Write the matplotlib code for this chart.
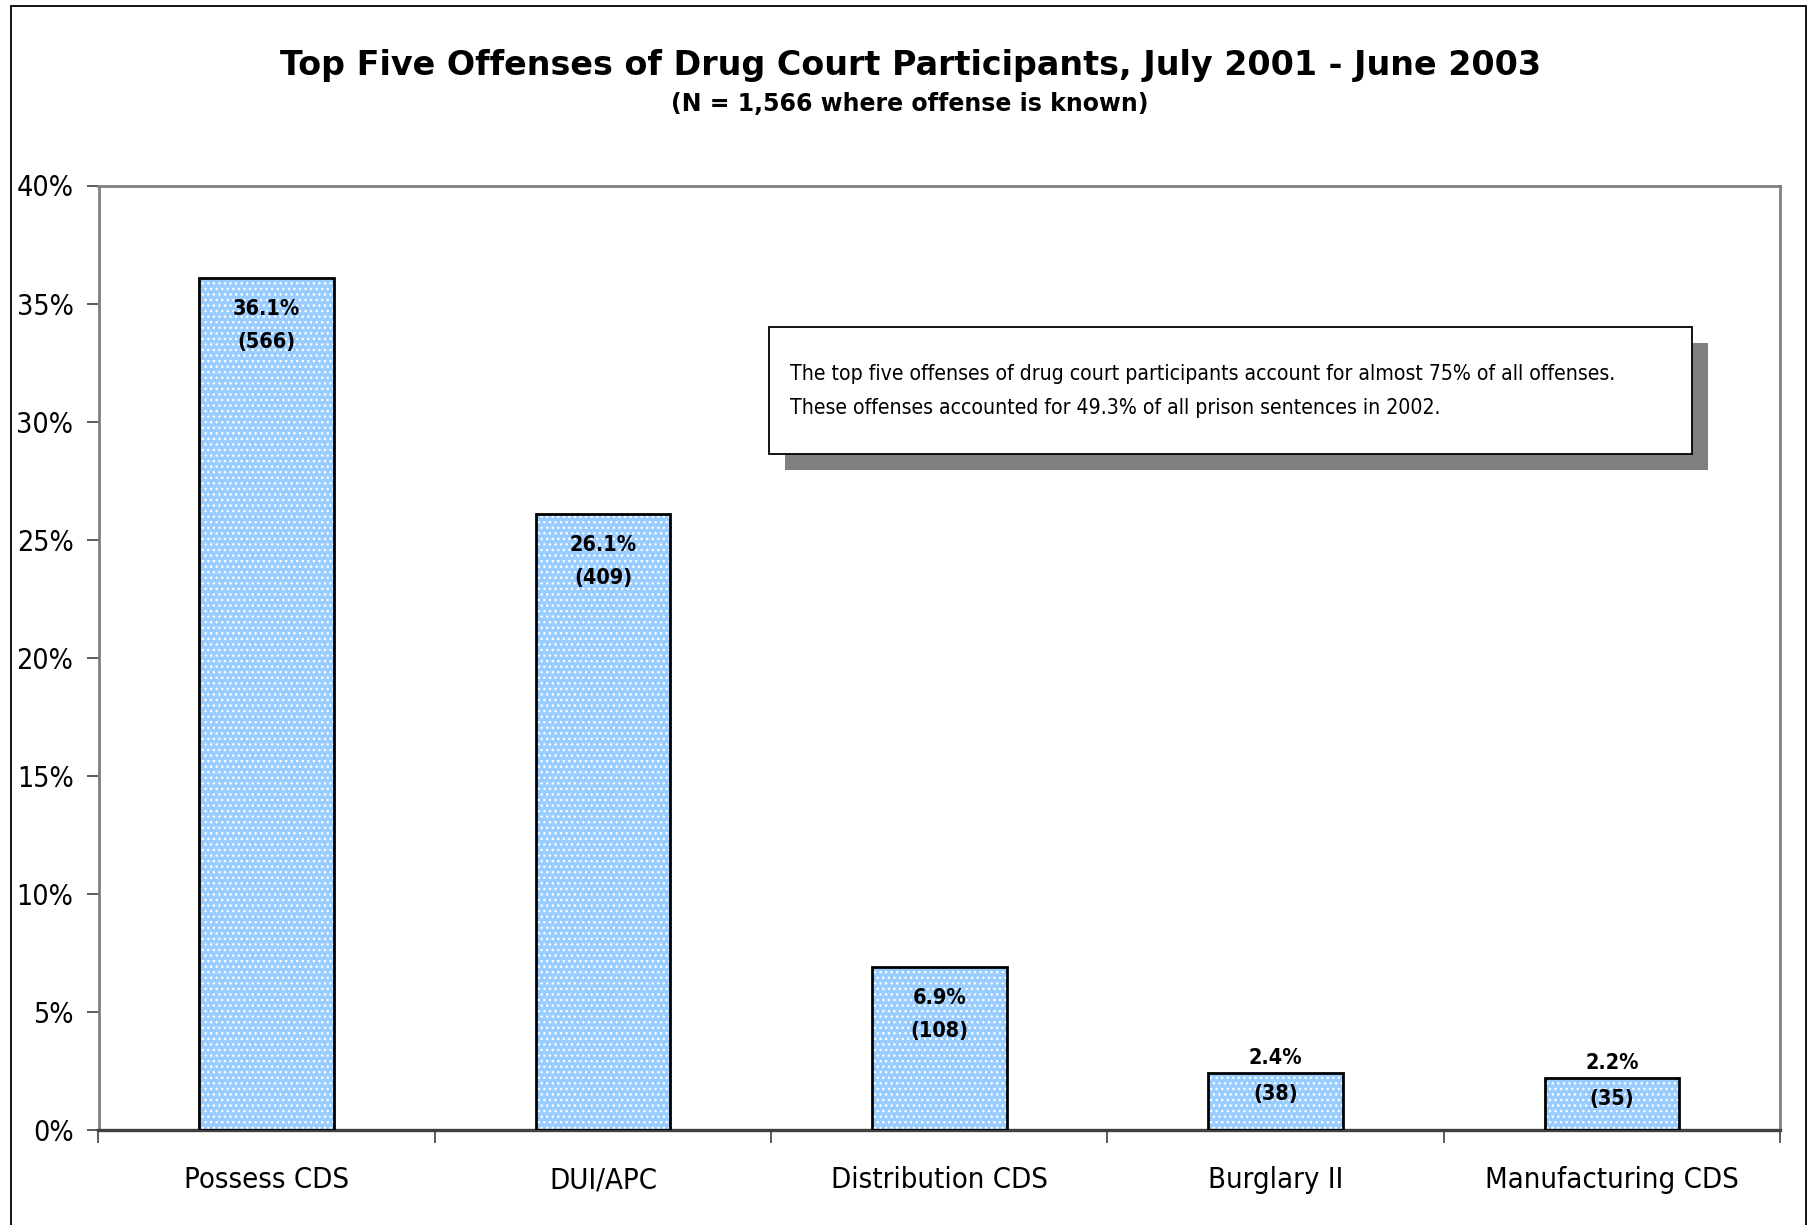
import matplotlib
matplotlib.use("Agg")
import matplotlib.pyplot as plt
from matplotlib.patches import Rectangle

# Data
categories = ["Possess CDS", "DUI/APC", "Distribution CDS", "Burglary II", "Manufacturing CDS"]
percents = [36.1, 26.1, 6.9, 2.4, 2.2]
counts = [566, 409, 108, 38, 35]
y_ticks = [0, 5, 10, 15, 20, 25, 30, 35, 40]

NARROW = dict(family="DejaVu Sans", stretch="condensed")
W, H = 1818, 1225
fig = plt.figure(figsize=(W / 100, H / 100), dpi=100)

# outer chart frame
fig.patches.append(Rectangle((11 / W, -0.02), (1806 - 11) / W, 1.02 - 6 / H,
                             transform=fig.transFigure, fill=False,
                             edgecolor="black", lw=1.3))

left, right, top, bottom = 98.5, 1780, 185.5, 1130
ax = fig.add_axes([left / W, 1 - bottom / H, (right - left) / W, (bottom - top) / H])

x = list(range(len(categories)))
bar_w = 0.4
base = "#99CCFF"
# patterned fill, then black outline
ax.bar(x, percents, width=bar_w, color=base, edgecolor="white", hatch="...",
       linewidth=0, zorder=2)
ax.bar(x, percents, width=bar_w, fill=False, edgecolor="black", linewidth=2, zorder=3)

lab = dict(ha="center", va="center", fontsize=15.5, fontweight="bold",
           textcoords="offset pixels", zorder=4, **NARROW)
for xi, p, c in zip(x, percents, counts):
    if p > 5:
        ax.annotate(f"{p:.1f}%", (xi, p), xytext=(0, -31), **lab)
        ax.annotate(f"({c})", (xi, p), xytext=(0, -64), **lab)
    else:
        ax.annotate(f"{p:.1f}%", (xi, p), xytext=(0, 15), **lab)
        ax.annotate(f"({c})", (xi, p), xytext=(0, -21), **lab)

ax.set_xlim(-0.5, len(categories) - 0.5)
ax.set_ylim(0, 40)
ax.set_yticks(y_ticks)
ax.set_yticklabels([f"{v}%" for v in y_ticks], fontsize=20.5, **NARROW)
ax.set_xticks(x)
ax.set_xticklabels(categories, fontsize=21, **NARROW)
ax.set_xticks([i - 0.5 for i in range(len(categories) + 1)], minor=True)
ax.tick_params(axis="x", which="major", length=0, pad=26)
ax.tick_params(axis="x", which="minor", length=9, width=1.2, color="#404040", direction="out")
ax.tick_params(axis="y", length=9, width=1.2, color="#404040", direction="out", pad=9)

for s in ["top", "right", "left"]:
    ax.spines[s].set_color("#808080")
    ax.spines[s].set_linewidth(2)
ax.spines["bottom"].set_color("#404040")
ax.spines["bottom"].set_linewidth(2.4)

# annotation box with drop shadow
bx0, by0, bx1, by1 = 769, 327, 1692, 454
off = 16
fig.patches.append(Rectangle(((bx0 + off) / W, 1 - (by1 + off) / H), (bx1 - bx0) / W,
                             (by1 - by0) / H, transform=fig.transFigure,
                             facecolor="#808080", edgecolor="none", zorder=5))
fig.patches.append(Rectangle((bx0 / W, 1 - by1 / H), (bx1 - bx0) / W, (by1 - by0) / H,
                             transform=fig.transFigure, facecolor="white",
                             edgecolor="black", lw=1.3, zorder=6))
fig.text(790 / W, 1 - 374 / H,
         "The top five offenses of drug court participants account for almost 75% of all offenses.",
         fontsize=15.2, va="center", ha="left", zorder=7, **NARROW)
fig.text(790 / W, 1 - 408 / H,
         "These offenses accounted for 49.3% of all prison sentences in 2002.",
         fontsize=15.2, va="center", ha="left", zorder=7, **NARROW)

cx = 0.5 * (237 + 1333) / 1568
fig.text(cx, 1 - 65 / H,
         "Top Five Offenses of Drug Court Participants, July 2001 - June 2003",
         family="DejaVu Sans", fontweight="bold", fontsize=24, ha="center", va="center")
fig.text(cx, 1 - 104 / H, "(N = 1,566 where offense is known)",
         family="DejaVu Sans", fontweight="bold", fontsize=17, ha="center", va="center")

fig.savefig("out.png", dpi=100)
